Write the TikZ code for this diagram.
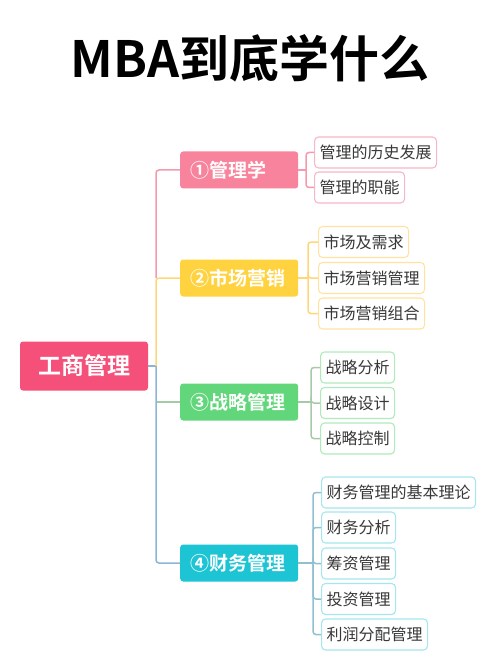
\documentclass[tikz,border=0pt]{standalone}
\usepackage{fontspec}
\setmainfont{Noto Sans CJK SC}[BoldFont={Noto Sans CJK SC Bold}]
\usetikzlibrary{calc,positioning}
\definecolor{rootred}{HTML}{F4507A}
\definecolor{topicpink}{HTML}{F7839C}
\definecolor{topicyellow}{HTML}{FFD23F}
\definecolor{topicgreen}{HTML}{62D67A}
\definecolor{topiccyan}{HTML}{1CC4D4}
\definecolor{linepink}{HTML}{F39AAE}
\definecolor{lineyellow}{HTML}{FFD77A}
\definecolor{linegreen}{HTML}{A8C9A8}
\definecolor{lineblue}{HTML}{8DB6D6}
\definecolor{linecyan}{HTML}{8FBFD0}
\definecolor{leaftext}{HTML}{383838}

\begin{document}
\begin{tikzpicture}[x=1pt,y=-1pt,
  rootbox/.style={rectangle,rounded corners=3pt,fill=rootred,text=white,
                  minimum width=128pt,minimum height=49pt,
                  font=\fontsize{23}{23}\selectfont\bfseries},
  topic/.style={rectangle,rounded corners=3pt,fill=#1,text=white,
                text width=98pt,align=left,inner xsep=10pt,
                minimum height=37pt,anchor=west,
                font=\fontsize{19}{19}\selectfont\bfseries},
  leaf/.style={rectangle,rounded corners=4pt,draw=#1,line width=1.1pt,
               fill=white,text=leaftext,inner xsep=5pt,
               minimum height=31pt,anchor=west,
               font=\fontsize{16}{16}\selectfont},
  ln/.style={draw=#1,line width=1.5pt,rounded corners=3pt},
]
\useasboundingbox (0,0) rectangle (500,652);

% title
\node[font=\fontsize{50}{50}\selectfont\bfseries] (title) at (250,58) {MBA到底学什么};

% root and branches
\node[rootbox] (root) at (84,366) {工商管理};
\node[topic=topicpink]   (mgt) at (180,170) {①管理学};
\node[topic=topicyellow] (mkt) at (180,278) {②市场营销};
\node[topic=topicgreen]  (stg) at (180,402) {③战略管理};
\node[topic=topiccyan]   (fin) at (180,563) {④财务管理};

\coordinate (trunk) at (156,366);
\draw[ln=lineblue] (root.east) -- (trunk);
\draw[ln=linepink] (mgt.west) -| (trunk |- mkt.west);
\draw[ln=lineyellow] (mkt.west) -| (trunk);
\draw[ln=linegreen] (stg.west) -- (trunk |- stg.west);
\draw[ln=lineblue] (trunk) |- (fin.west);

% leaves of 1
\node[leaf=linepink!70] (m1) at (314,152.5) {管理的历史发展};
\node[leaf=linepink!70] (m2) at (314,187.5) {管理的职能};
\coordinate (bm) at (306,170);
\draw[ln=linepink] (mgt.east) -- (bm);
\foreach \l in {m1,m2}{\draw[ln=linepink] (bm) |- (\l.west);}

% leaves of 2
\node[leaf=lineyellow!70] (k1) at (318,242) {市场及需求};
\node[leaf=lineyellow!70] (k2) at (318,278) {市场营销管理};
\node[leaf=lineyellow!70] (k3) at (318,313.5) {市场营销组合};
\coordinate (bk) at (308,278);
\draw[ln=lineyellow] (mkt.east) -- (bk);
\foreach \l in {k1,k2,k3}{\draw[ln=lineyellow] (bk) |- (\l.west);}

% leaves of 3
\node[leaf=topicgreen!50] (s1) at (320,367.5) {战略分析};
\node[leaf=topicgreen!50] (s2) at (320,403) {战略设计};
\node[leaf=topicgreen!50] (s3) at (320,438.5) {战略控制};
\coordinate (bs) at (311,402);
\draw[ln=linegreen] (stg.east) -- (bs);
\foreach \l in {s1,s2,s3}{\draw[ln=linegreen] (bs) |- (\l.west);}

% leaves of 4
\node[leaf=topiccyan!40] (f1) at (321,492.5) {财务管理的基本理论};
\node[leaf=topiccyan!40] (f2) at (321,527.5) {财务分析};
\node[leaf=topiccyan!40] (f3) at (321,563.5) {筹资管理};
\node[leaf=topiccyan!40] (f4) at (321,599) {投资管理};
\node[leaf=topiccyan!40] (f5) at (321,634.5) {利润分配管理};
\coordinate (bf) at (313,563);
\draw[ln=linecyan] (fin.east) -- (bf);
\foreach \l in {f1,f2,f3,f4,f5}{\draw[ln=linecyan] (bf) |- (\l.west);}
\end{tikzpicture}
\end{document}
